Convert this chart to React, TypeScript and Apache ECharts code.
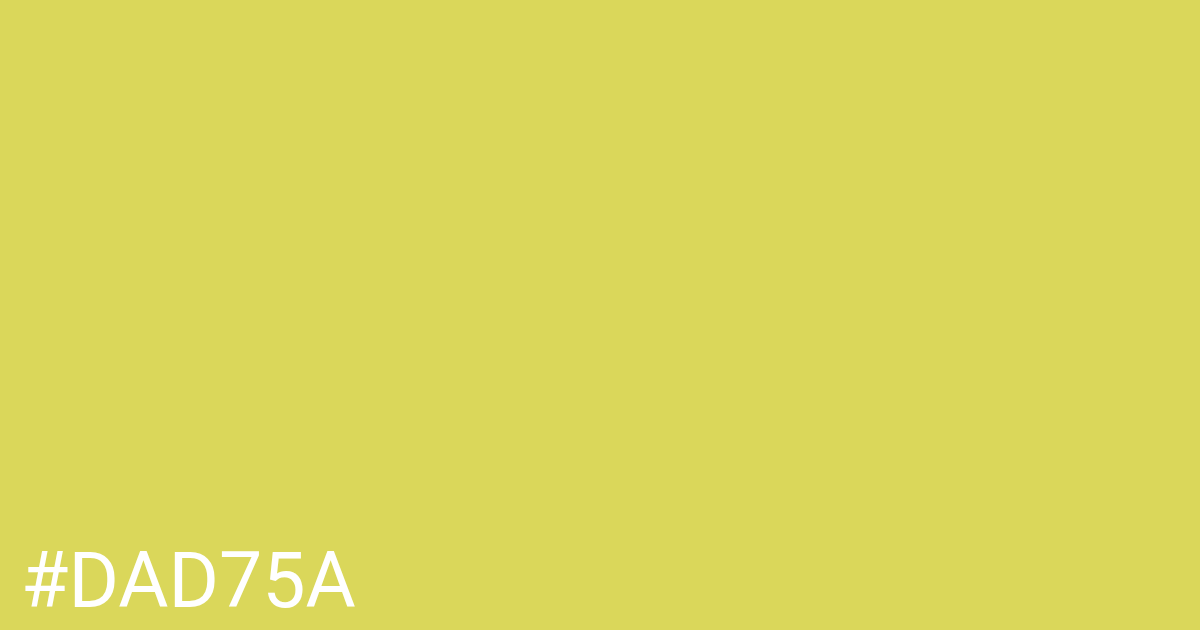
import { useEffect, useRef } from "react";
import * as echarts from "echarts";

const swatchHex = "#DAD75A";
const labelText = [swatchHex];

export default function App() {
  const reference = useRef<HTMLDivElement>(null);
  useEffect(() => {
    const element = reference.current;
    if (element === null) return;
    document.body.style.margin = "0";
    const chart = echarts.init(element, undefined, { renderer: "svg" });
    chart.setOption({
      animation: false,
      backgroundColor: swatchHex,
      graphic: labelText.map((text) => ({
        type: "text",
        left: 21,
        top: 542,
        style: {
          text,
          fill: "#ffffff",
          font: '400 77px Roboto, "Noto Sans", sans-serif',
        },
      })),
    });
    return () => chart.dispose();
  }, []);
  return (
    <div
      ref={reference}
      style={{ position: "fixed", left: 0, top: 0, width: 1200, height: 630 }}
    />
  );
}
